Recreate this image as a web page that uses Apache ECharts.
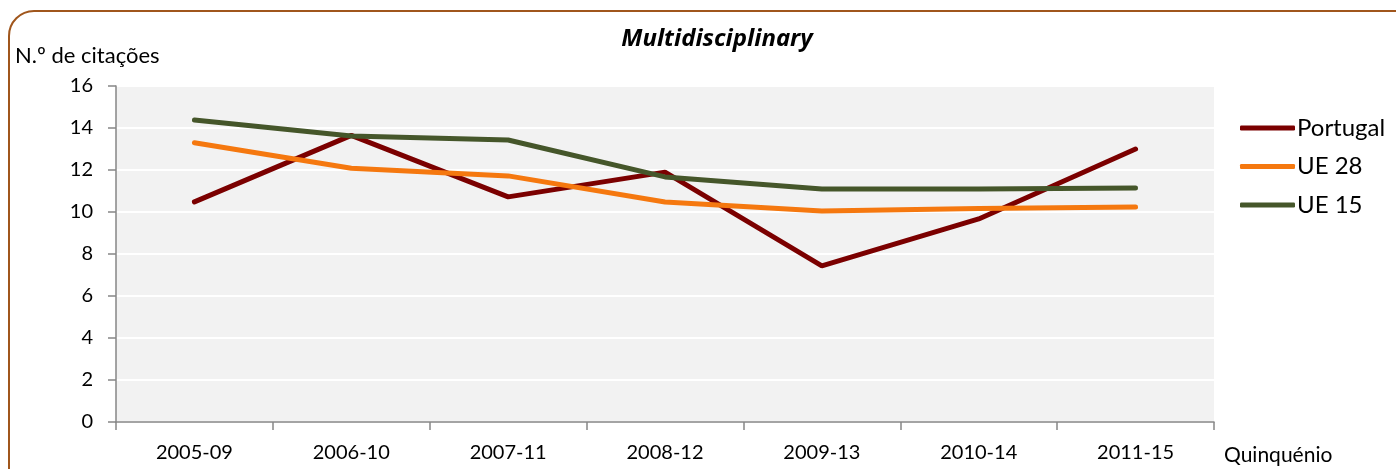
<!DOCTYPE html>
<html>
<head>
<meta charset="utf-8">
<script src="https://cdn.jsdelivr.net/npm/echarts@6/dist/echarts.min.js"></script>
<style>
  html, body { margin: 0; padding: 0; background: #fff; overflow: hidden; }
  #wrap { position: relative; width: 1396px; height: 469px; }
  #main { position: absolute; left: 0; top: 0; width: 1396px; height: 469px; }
  #frame {
    position: absolute; left: 8px; top: 10px; width: 1420px; height: 490px;
    border: 2px solid #A0561C; border-radius: 26px; box-sizing: border-box;
    pointer-events: none;
  }
</style>
</head>
<body>
<div id="wrap">
  <div id="main"></div>
  <div id="frame"></div>
</div>
<script>
var categories = ['2005-09', '2006-10', '2007-11', '2008-12', '2009-13', '2010-14', '2011-15']
var portugal = [10.48, 13.65, 10.72, 11.9, 7.43, 9.67, 13.0]
var ue28 = [13.3, 12.08, 11.72, 10.48, 10.05, 10.17, 10.24]
var ue15 = [14.38, 13.62, 13.43, 11.67, 11.1, 11.1, 11.14]

var FONT = 'Lato'
var chart = echarts.init(document.getElementById('main'))

var option = {
  animation: false,
  title: {
    text: 'Multidisciplinary',
    left: 712,
    top: 22,
    textAlign: 'center',
    textStyle: { fontFamily: 'Noto Sans', fontSize: 24, fontWeight: 'bold', fontStyle: 'italic', color: '#000' }
  },
  legend: {
    orient: 'vertical',
    left: 1235,
    top: 111,
    itemWidth: 55,
    itemHeight: 5,
    itemGap: 14.5,
    icon: 'roundRect',
    textStyle: { fontFamily: FONT, fontSize: 24, lineHeight: 24, color: '#000', padding: [0, 0, 0, -3] },
    data: ['Portugal', 'UE 28', 'UE 15']
  },
  grid: {
    left: 116, right: 182, top: 86, bottom: 47,
    show: true, backgroundColor: '#f2f2f2', borderWidth: 0
  },
  xAxis: {
    type: 'category',
    data: categories,
    boundaryGap: true,
    name: 'Quinquénio',
    nameLocation: 'end',
    nameGap: 10,
    nameTextStyle: { fontFamily: FONT, fontSize: 21, color: '#000', verticalAlign: 'top', padding: [23, 0, 0, 0] },
    axisLine: { lineStyle: { color: '#868686', width: 1.5 } },
    axisTick: { show: true, length: 8, lineStyle: { color: '#868686', width: 1.5 } },
    axisLabel: { fontFamily: FONT, fontSize: 20, color: '#000', margin: 21 },
    splitLine: { show: false }
  },
  yAxis: {
    type: 'value',
    min: 0,
    max: 16,
    interval: 2,
    name: 'N.º de citações',
    nameLocation: 'end',
    nameGap: 19,
    nameTextStyle: { fontFamily: FONT, fontSize: 22, color: '#000', align: 'left', padding: [0, 0, 0, -101] },
    axisLine: { show: true, lineStyle: { color: '#868686', width: 1.5 } },
    axisTick: { show: true, length: 8, lineStyle: { color: '#868686', width: 1.5 } },
    axisLabel: { fontFamily: FONT, fontSize: 20, color: '#000', margin: 23 },
    splitLine: { show: true, lineStyle: { color: '#ffffff', width: 2 } }
  },
  series: [
    {
      name: 'Portugal', type: 'line', data: portugal,
      showSymbol: false, symbol: 'none',
      lineStyle: { color: '#7B0000', width: 5, cap: 'round' },
      itemStyle: { color: '#7B0000' }
    },
    {
      name: 'UE 28', type: 'line', data: ue28,
      showSymbol: false, symbol: 'none',
      lineStyle: { color: '#F5780F', width: 5, cap: 'round' },
      itemStyle: { color: '#F5780F' }
    },
    {
      name: 'UE 15', type: 'line', data: ue15,
      showSymbol: false, symbol: 'none',
      lineStyle: { color: '#45562A', width: 5, cap: 'round' },
      itemStyle: { color: '#45562A' }
    }
  ]
}
chart.setOption(option)
</script>
</body>
</html>
